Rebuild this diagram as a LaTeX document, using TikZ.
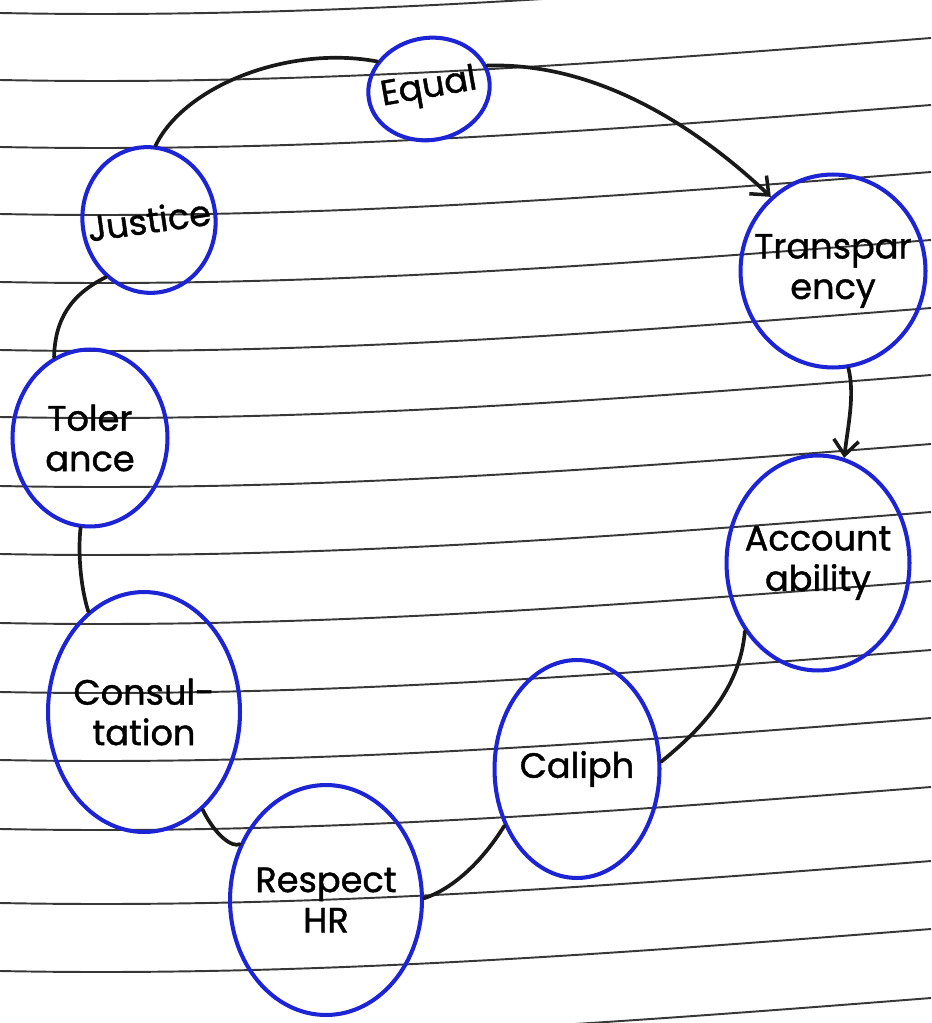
\documentclass[tikz,border=0pt]{standalone}
\usepackage{fontspec}
\setmainfont{Poppins}[UprightFeatures={FakeBold=1.2}]
\usetikzlibrary{shapes.geometric,arrows.meta}
\definecolor{penblue}{RGB}{28,36,214}
\definecolor{ruleline}{RGB}{55,55,55}
\begin{document}
\begin{tikzpicture}[x=0.02cm,y=-0.02cm,
    bubble/.style={ellipse,draw=penblue,line width=2.3pt,inner sep=-0.3cm,align=center,
        font=\fontsize{20}{23}\selectfont},
    link/.style={draw=black!90,line width=2.1pt,line cap=round},
    arrowlink/.style={link,-{Straight Barb[length=3mm,width=5mm,line width=2pt]}}]
    \useasboundingbox (0,0) rectangle (931,1023);
    \fill[white] (0,0) rectangle (931,1023);
    % ruled paper
    \begin{scope}
        \clip (0,0) rectangle (931,1023);
        \foreach \y in {13,80,147,214,282,350,417,486,554,623,692,760,829,903,971,1040}
            \draw[ruleline,line width=1.1pt] (0,\y) .. controls (300,\y+6) and (600,\y-16) .. (931,\y-42);
    \end{scope}
    % bubbles
    \node[bubble,minimum width=2.44cm,minimum height=2.04cm,rotate=10] (equal) at (429,89) {Equal};
    \node[bubble,minimum width=2.56cm,minimum height=2.92cm,rotate=8] (justice) at (149,220) {Justice};
    \node[bubble,minimum width=3.1cm,minimum height=3.54cm] (tolerance) at (90,438) {Toler\\ance};
    \node[bubble,minimum width=3.84cm,minimum height=4.8cm] (consultation) at (144,712) {Consul-\\tation};
    \node[bubble,minimum width=3.84cm,minimum height=4.6cm] (respect) at (326,900) {Respect\\HR};
    \node[bubble,minimum width=3.3cm,minimum height=4.36cm] (caliph) at (577,769) {Caliph};
    \node[bubble,minimum width=3.66cm,minimum height=4.3cm] (accountability) at (818,563) {Account\\ability};
    \node[bubble,minimum width=3.7cm,minimum height=3.86cm] (transparency) at (833,271) {Transpar\\ency};
    % connectors
    \draw[link] (equal.142) .. controls (290,45) and (185,85) .. (justice.77);
    \draw[arrowlink] (equal.12) .. controls (600,62) and (700,130) .. (transparency.130);
    \draw[arrowlink] (transparency.-81) .. controls (855,395) and (848,425) .. (accountability.76);
    \draw[link] (accountability.223) .. controls (740,690) and (700,730) .. (caliph.5);
    \draw[link] (caliph.218) .. controls (480,865) and (450,890) .. (respect.1);
    \draw[link] (respect.147) .. controls (232,848) and (215,835) .. (consultation.-59);
    \draw[link] (consultation.119) .. controls (80,585) and (78,550) .. (tolerance.264);
    \draw[link] (tolerance.114) .. controls (55,320) and (70,295) .. (justice.225);
\end{tikzpicture}
\end{document}
